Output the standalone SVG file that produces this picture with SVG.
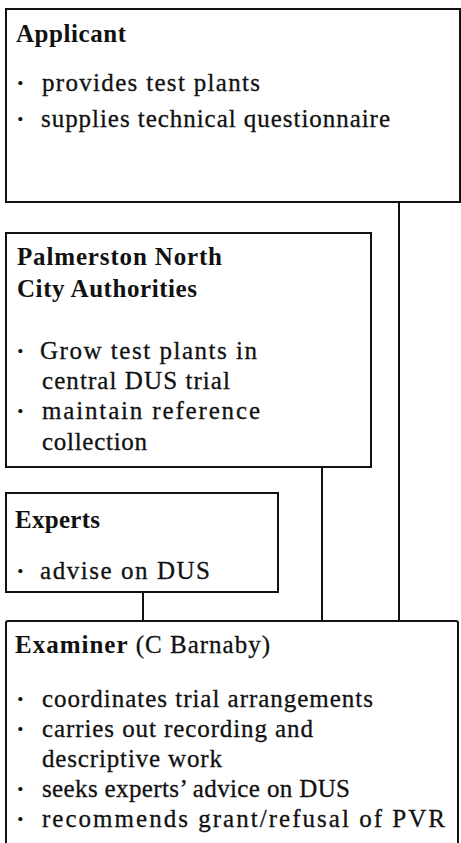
<svg xmlns="http://www.w3.org/2000/svg" width="461" height="843" viewBox="0 0 461 843">
  <style>
    .box { fill: #ffffff; stroke: #111111; stroke-width: 2; }
    .link { fill: none; stroke: #111111; stroke-width: 2; }
    text { font-family: "Liberation Serif", "Times New Roman", serif; fill: #111111; }
    .title { font-size: 25px; font-weight: bold; }
    .item { font-size: 25px; stroke: #111111; stroke-width: 0.3; }
    .dot { font-size: 26px; font-weight: bold; }
  </style>
  <rect width="461" height="843" fill="#ffffff"/>

  <!-- connectors into the examiner box -->
  <g id="connectors">
    <line class="link" x1="399" y1="202" x2="399" y2="621"/>
    <line class="link" x1="322" y1="467" x2="322" y2="621"/>
    <line class="link" x1="143" y1="592" x2="143" y2="621"/>
  </g>

  <g id="applicant">
    <rect class="box" x="6" y="9" width="454" height="193"/>
    <text class="title" x="16" y="42" textLength="110" lengthAdjust="spacing">Applicant</text>
    <text class="dot" x="16" y="91">·</text>
    <text class="item" x="42" y="91" textLength="218" lengthAdjust="spacing">provides test plants</text>
    <text class="dot" x="16" y="127">·</text>
    <text class="item" x="41" y="127" textLength="349" lengthAdjust="spacing">supplies technical questionnaire</text>
  </g>

  <g id="palmerston">
    <rect class="box" x="6" y="233" width="365" height="234"/>
    <text class="title" x="17" y="265" textLength="205" lengthAdjust="spacing">Palmerston North</text>
    <text class="title" x="17" y="297" textLength="180" lengthAdjust="spacing">City Authorities</text>
    <text class="dot" x="16" y="359">·</text>
    <text class="item" x="40" y="359" textLength="217" lengthAdjust="spacing">Grow test plants in</text>
    <text class="item" x="42" y="389" textLength="188" lengthAdjust="spacing">central DUS trial</text>
    <text class="dot" x="16" y="419">·</text>
    <text class="item" x="42" y="419" textLength="218" lengthAdjust="spacing">maintain reference</text>
    <text class="item" x="42" y="450" textLength="105" lengthAdjust="spacing">collection</text>
  </g>

  <g id="experts">
    <rect class="box" x="6" y="493" width="272" height="99"/>
    <text class="title" x="15" y="528" textLength="85" lengthAdjust="spacing">Experts</text>
    <text class="dot" x="16" y="579">·</text>
    <text class="item" x="40" y="579" textLength="170" lengthAdjust="spacing">advise on DUS</text>
  </g>

  <g id="examiner">
    <rect class="box" x="6" y="621" width="452" height="230" rx="2"/>
    <text x="15" y="653" font-size="25" textLength="255" lengthAdjust="spacing"><tspan font-weight="bold">Examiner</tspan><tspan stroke="#111111" stroke-width="0.3"> (C Barnaby)</tspan></text>
    <text class="dot" x="16" y="707">·</text>
    <text class="item" x="42" y="707" textLength="331" lengthAdjust="spacing">coordinates trial arrangements</text>
    <text class="dot" x="16" y="737">·</text>
    <text class="item" x="42" y="737" textLength="271" lengthAdjust="spacing">carries out recording and</text>
    <text class="item" x="42" y="767" textLength="180" lengthAdjust="spacing">descriptive work</text>
    <text class="dot" x="16" y="797">·</text>
    <text class="item" x="42" y="797" textLength="308" lengthAdjust="spacing">seeks experts’ advice on DUS</text>
    <text class="dot" x="16" y="827">·</text>
    <text class="item" x="42" y="827" textLength="403" lengthAdjust="spacing">recommends grant/refusal of PVR</text>
  </g>
</svg>
